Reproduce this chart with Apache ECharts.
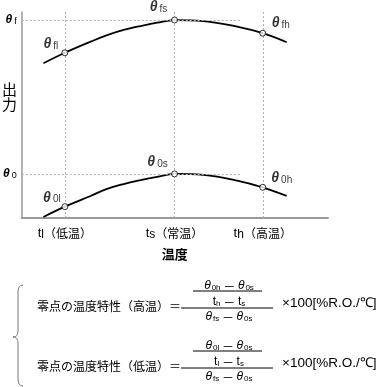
<!DOCTYPE html>
<html><head><meta charset="utf-8">
<script src="https://cdn.jsdelivr.net/npm/echarts@6/dist/echarts.min.js"></script>
<style>html,body{margin:0;padding:0;background:#fff}#c{width:380px;height:387px}</style>
</head><body><div id="c"></div>
<script>
// temperature positions (x) : t_l, t_s, t_h
const tempTicks = [14.1, 49.9, 78.7];
const tempSubs = ['l', 's', 'h'];
const tempNames = ['（低温）', '（常温）', '（高温）'];
// output levels (y): theta_f, theta_0
const levelTicks = [21.4, 96.1];
const levelSubs = ['0', 'f'];
// curves
const curveX = [7.1, 14.1, 22.5, 27.9, 33.3, 38.8, 44.2, 49.9, 59.3, 70.3, 78.7, 86.5];
const fullScaleY = [75.1, 80.2, 85.6, 88.8, 91.3, 93.2, 94.8, 96.1, 95.6, 92.9, 89.7, 85.3];
const zeroY = [0.5, 5.5, 10.7, 14.1, 16.5, 18.4, 20.0, 21.4, 20.9, 18.2, 14.9, 10.7];
// marked points
const fullMarkY = [80.2, 96.1, 89.7];
const zeroMarkY = [5.5, 21.4, 14.9];
const fullMarkNames = ['fl', 'fs', 'fh'];
const zeroMarkNames = ['0l', '0s', '0h'];
const guideEndX = 71.3;

const latin = '"Liberation Sans", Arial, sans-serif';
const cjk = '"Noto Sans CJK JP", sans-serif';
const thetaRich = {
  th: {fontSize: 14, fontStyle: 'italic', fontFamily: latin, color: '#000', fontWeight: 'bold'},
  sb: {fontSize: 10, fontFamily: latin, color: '#000', padding: [4, 0, 0, 2]}
};
const offsets = [[-14, -9], [-16, -13], [18, -10]];
const offsets0 = [[-13, -9], [-17, -12], [19, -9]];

function marks(ys, names, offs) {
  return ys.map((y, i) => ({
    value: [tempTicks[i], y],
    label: {show: true, position: 'inside', offset: offs[i],
      formatter: '{th|θ}{sb|' + names[i] + '}', rich: thetaRich}
  }));
}

const guide = {color: '#b0b0b0', type: [2, 2], width: 1};
const chart = echarts.init(document.getElementById('c'));
chart.setOption({
  animation: false,
  grid: {left: 21, right: 52, top: 12, bottom: 169},
  xAxis: {
    type: 'value', min: 0, max: 100,
    axisLine: {show: true, lineStyle: {color: '#999', width: 2}},
    axisTick: {show: false}, splitLine: {show: false},
    name: '温度', nameLocation: 'middle', nameGap: 30,
    nameTextStyle: {fontSize: 13, fontWeight: 'bold', fontFamily: cjk, color: '#000'},
    axisLabel: {
      customValues: tempTicks, margin: 7,
      formatter: v => { const i = tempTicks.indexOf(v); return '{t|t}{s|' + tempSubs[i] + '}{n|' + tempNames[i] + '}'; },
      rich: {
        t: {fontSize: 13, fontFamily: latin, color: '#000'},
        s: {fontSize: 12, fontFamily: latin, color: '#000', padding: [4, 0, 0, 0]},
        n: {fontSize: 12, fontFamily: cjk, color: '#000'}
      }
    }
  },
  yAxis: {
    type: 'value', min: 0, max: 100,
    axisLine: {show: true, lineStyle: {color: '#999', width: 1.5}},
    axisTick: {show: false}, splitLine: {show: false},
    axisLabel: {
      customValues: levelTicks, margin: 5,
      formatter: v => { const i = levelTicks.indexOf(v); return '{th|θ}{sb|' + levelSubs[i] + '}'; },
      rich: {
        th: {fontSize: 12, fontStyle: 'italic', fontWeight: 'bold', fontFamily: latin, color: '#000'},
        sb: {fontSize: 9, fontFamily: latin, color: '#000', padding: [3, 0, 0, 2]}
      }
    }
  },
  series: [
    {type: 'line', data: curveX.map((x, i) => [x, fullScaleY[i]]), smooth: 0.4, showSymbol: false,
     lineStyle: {color: '#000', width: 1.8}, silent: true,
     markLine: {silent: true, symbol: 'none', label: {show: false}, lineStyle: guide,
       data: tempTicks.map(x => ({xAxis: x})).concat(
         levelTicks.map(y => [{coord: [0, y]}, {coord: [guideEndX, y]}]))}},
    {type: 'line', data: curveX.map((x, i) => [x, zeroY[i]]), smooth: 0.4, showSymbol: false,
     lineStyle: {color: '#000', width: 1.8}, silent: true},
    {type: 'scatter', symbol: 'circle', symbolSize: 6, z: 5,
     itemStyle: {color: '#fff', borderColor: '#000', borderWidth: 1},
     data: marks(fullMarkY, fullMarkNames, offsets).concat(marks(zeroMarkY, zeroMarkNames, offsets0))}
  ],
  graphic: {elements: (function () {
    const els = [];
    const T = (x, y, text, rich, align) => els.push({type: 'text', style: {x: x, y: y, text: text, rich: rich,
      textAlign: align || 'center', textVerticalAlign: 'middle', fill: '#000', font: '12px ' + cjk}});
    const L = (x1, y1, x2, y2, c, w) => els.push({type: 'line', shape: {x1: x1, y1: y1, x2: x2, y2: y2}, style: {stroke: c || '#000', lineWidth: w || 1}});
    els.push({type: 'text', style: {x: 2, y: 82, text: '出\n力', font: '15px ' + cjk, lineHeight: 15, fill: '#000'}});
    // brace
    const Q = (x1, y1, cx, cy, x2, y2) => els.push({type: 'bezierCurve', shape: {x1: x1, y1: y1, cpx1: cx, cpy1: cy, x2: x2, y2: y2}, style: {stroke: '#777', lineWidth: 1, fill: null}});
    Q(23, 285, 18, 285, 18, 292); L(18, 292, 18, 331, '#777');
    Q(18, 331, 18, 337, 13, 337); Q(13, 337, 18, 337, 18, 343);
    L(18, 343, 18, 379, '#777'); Q(18, 379, 18, 386, 23, 386);
    const r = {
      th: {fontSize: 12, fontStyle: 'italic', fontFamily: latin},
      sb: {fontSize: 8, fontFamily: latin, padding: [3, 0, 0, 1]},
      op: {fontSize: 12, fontFamily: cjk},
      t: {fontSize: 12, fontFamily: latin},
      ts: {fontSize: 8, fontFamily: latin, padding: [3, 0, 0, 0]},
      j: {fontSize: 12, fontFamily: cjk},
      u: {fontSize: 13.5, fontFamily: latin}
    };
    const rows = [
      {y: 307, label: '零点の温度特性（高温）＝', a: '0h', t: 'h'},
      {y: 367, label: '零点の温度特性（低温）＝', a: '0l', t: 'l'}
    ];
    rows.forEach(row => {
      const y = row.y;
      T(37, y - 1, '{j|' + row.label + '}', r, 'left');
      L(181, y + 1, 273, y + 1);
      T(229, y - 21, '{th|θ}{sb|' + row.a + '}{op| － }{th|θ}{sb|0s}', r);
      L(193, y - 16, 262, y - 16);
      T(229, y - 5, '{t|t}{ts|' + row.t + '}{op| － }{t|t}{ts|s}', r);
      T(229, y + 10, '{th|θ}{sb|fs}{op| － }{th|θ}{sb|0s}', r);
      T(282, y - 4, '{u|×100[%R.O./℃]}', r, 'left');
    });
    return els;
  })()}
});
</script></body></html>
